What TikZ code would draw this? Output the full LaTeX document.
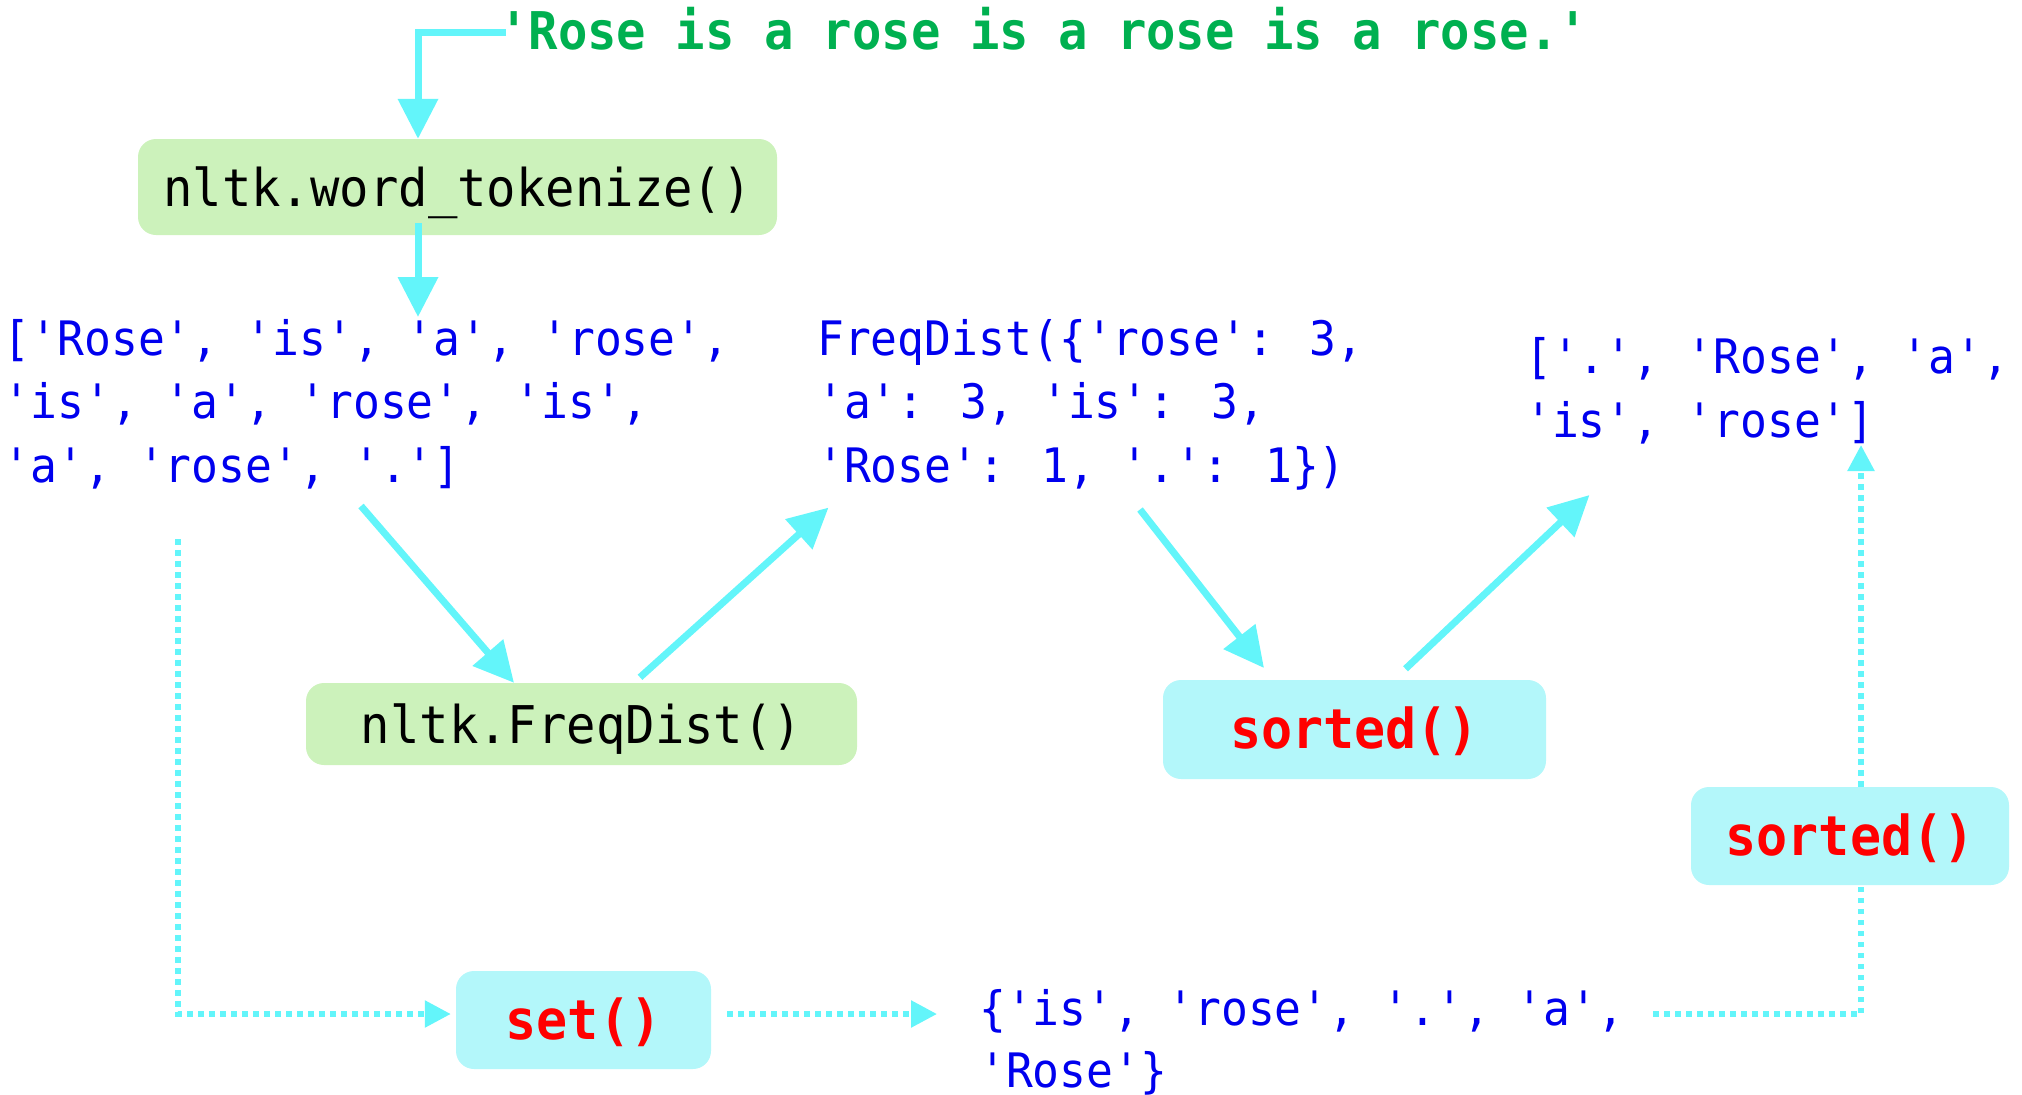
\documentclass[tikz,border=0pt]{standalone}
\usepackage{fontspec}
\newfontfamily\codefont[FakeStretch=0.94]{DejaVu Sans Mono}
\usetikzlibrary{arrows.meta}
\definecolor{arrowcyan}{HTML}{63F5FA}
\definecolor{boxgreen}{HTML}{CCF2BB}
\definecolor{boxcyan}{HTML}{B3F7FA}
\definecolor{codeblue}{HTML}{0000EE}
\definecolor{codegreen}{HTML}{00B050}
\definecolor{codered}{HTML}{FF0000}
\begin{document}
\begin{tikzpicture}[x=1pt,y=-1pt,
  txt/.style={anchor=base west, inner sep=0pt, font=\codefont\fontsize{47.5}{52}\selectfont, text=codeblue},
  fnbox/.style={rounded corners=18pt, inner sep=0pt, text height=38pt, text depth=0pt, anchor=center},
  greenbox/.style={fnbox, fill=boxgreen, font=\codefont\fontsize{52}{58}\selectfont, text=black},
  cyanbox/.style={fnbox, fill=boxcyan, font=\codefont\bfseries\fontsize{55}{60}\selectfont, text=codered},
  solidarrow/.style={draw=arrowcyan, line width=7pt, -{Triangle[length=40pt,width=39pt]}},
  dotline/.style={draw=arrowcyan, line width=5.5pt, dash pattern=on 5.5pt off 5.5pt},
  dotarrow/.style={dotline, -{Triangle[length=26pt,width=26pt]}}
]
\useasboundingbox (0,0) rectangle (2022,1095);

% title
\node[txt, text=codegreen, font=\codefont\bfseries\fontsize{52}{58}\selectfont] (title) at (499,49) {'Rose is a rose is a rose is a rose.'};

% function boxes
\node[greenbox, minimum width=639pt, minimum height=96pt] (word) at (457.5,187) {nltk.word\_tokenize()};
\node[greenbox, minimum width=551pt, minimum height=82pt] (freq) at (581.5,724) {nltk.FreqDist()};
\node[cyanbox, minimum width=383pt, minimum height=99pt] (sorted1) at (1354.5,729.5) {sorted()};
\node[cyanbox, minimum width=318pt, minimum height=98pt] (sorted2) at (1850,836) {sorted()};
\node[cyanbox, minimum width=255pt, minimum height=98pt] (set) at (583.5,1020) {set()};

% token list
\node[txt] (list1) at (3.5,355) {['Rose', 'is', 'a', 'rose',};
\node[txt] (list2) at (3.5,418.5) {'is', 'a', 'rose', 'is',};
\node[txt] (list3) at (3.5,482) {'a', 'rose', '.']};

% FreqDist result
\node[txt] (fd1) at (817,355) {FreqDist(\{'rose': 3,};
\node[txt] (fd2) at (817,418.5) {'a': 3, 'is': 3,};
\node[txt] (fd3) at (817,482) {'Rose': 1, '.': 1\})};

% sorted result
\node[txt] (sr1) at (1525,373) {['.', 'Rose', 'a',};
\node[txt] (sr2) at (1525,437) {'is', 'rose']};

% set result
\node[txt] (st1) at (979,1025) {\{'is', 'rose', '.', 'a',};
\node[txt] (st2) at (979,1087) {'Rose'\}};

% free connector ends
\coordinate (tokout) at (418,317);
\coordinate (listout) at (361,506);
\coordinate (fdin) at (828.5,507.6);
\coordinate (fdout) at (1140,509.5);
\coordinate (sortin) at (1264,668);
\coordinate (srin) at (1589.5,495);
\coordinate (listdot) at (178,539);
\coordinate (stin) at (937,1014);
\coordinate (stout) at (1653,1014);
\coordinate (srdot) at (1861,445);

% solid connectors
\draw[solidarrow] ([xshift=7pt,yshift=16.5pt]title.base west) -| ([xshift=-39.5pt]word.north);
\draw[solidarrow] ([xshift=-39.5pt,yshift=12pt]word.south) -- (tokout);
\draw[solidarrow] (listout) -- ([xshift=-67.5pt]freq.north);
\draw[solidarrow] ([xshift=58.5pt,yshift=5.5pt]freq.north) -- (fdin);
\draw[solidarrow] (fdout) -- (sortin);
\draw[solidarrow] ([xshift=51pt,yshift=11pt]sorted1.north) -- (srin);

% dotted connectors
\draw[dotarrow] (listdot) |- ([xshift=-5pt,yshift=6pt]set.west);
\draw[dotarrow] ([xshift=16pt,yshift=6pt]set.east) -- (stin);
\draw[dotline] (stout) -| ([xshift=11pt]sorted2.south);
\draw[dotarrow] ([xshift=11pt]sorted2.north) -- (srdot);
\end{tikzpicture}
\end{document}
